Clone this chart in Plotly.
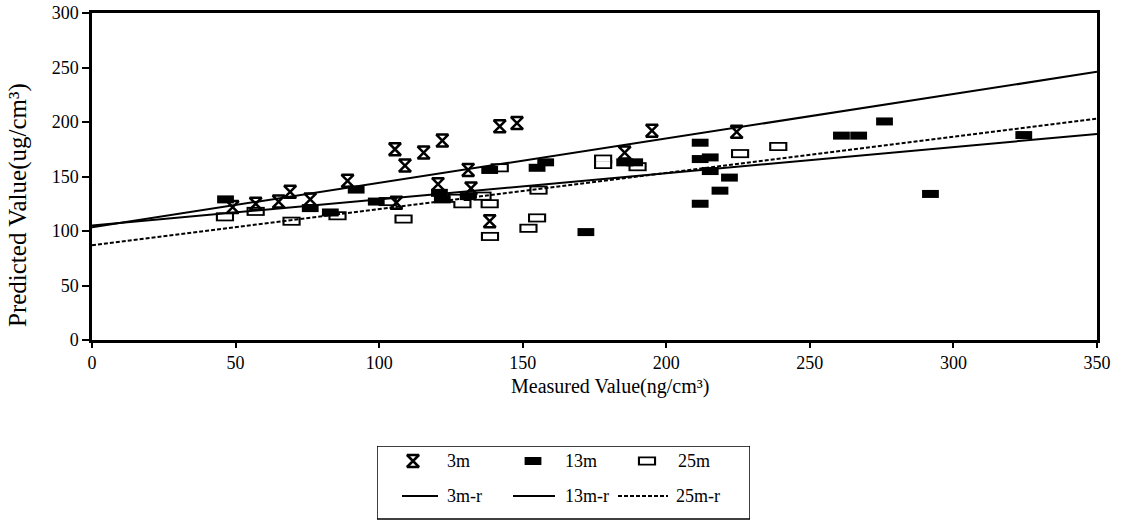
import plotly.graph_objects as go

# ---------------- data ----------------
x_3m = [49, 57, 65, 69, 76, 89, 105.5, 106, 109, 115.5, 120.5, 122, 131, 132,
        138.5, 142, 148, 185.5, 195, 224.5]
y_3m = [122, 125, 127, 136, 129, 146, 175, 126, 160, 172, 143, 183, 156, 139,
        109, 196, 199, 172, 192, 191]

x_13m = [46.5, 76, 83, 92, 99, 121, 122, 131, 138.5, 155, 158, 172, 185.5, 189,
         211.8, 211.8, 215.3, 215.3, 218.7, 222, 211.8, 261, 267, 276, 292, 324.5]
y_13m = [129, 121, 117, 138, 127, 135, 129, 132, 156, 158, 163, 99, 163, 163,
         181, 166, 167.5, 155, 137, 149, 125, 187.5, 187.5, 200.5, 134, 188]

x_25m = [46.3, 57, 69.5, 85.5, 103, 108.5, 127, 129, 136, 138.5, 138.6, 142,
         152, 155, 155.5, 178, 178, 190, 225.7, 239]
y_25m = [113, 118, 109, 114, 127, 111, 130, 125, 132, 125, 95, 158,
         102.5, 112, 137.5, 166, 161, 159, 171, 177.5]

# regression lines (end points at x = 0 and x = 350)
reg_x = [0, 350]
reg_3m = [103.5, 246]
reg_13m = [105, 189]
reg_25m = [87, 203]

x_ticks = [0, 50, 100, 150, 200, 250, 300, 350]
y_ticks = [0, 50, 100, 150, 200, 250, 300]

series_labels = ["3m", "13m", "25m"]
line_labels = ["3m-r", "13m-r", "25m-r"]

x_title = "Measured Value(ng/cm³)"
y_title = "Predicted Value(ug/cm³)"

# ---------------- styles ----------------
FONT = "Liberation Serif"
M3 = dict(symbol="hourglass-open", size=12, color="black", line=dict(width=2.5, color="black"))
M13 = dict(symbol="line-ew", size=12, color="black", line=dict(width=8, color="black"))
M25_OUT = dict(symbol="line-ew", size=13, color="black", line=dict(width=9, color="black"))
M25_IN = dict(symbol="line-ew", size=10, color="white", line=dict(width=5.5, color="white"))
L3 = dict(color="black", width=2)
L13 = dict(color="black", width=2)
L25 = dict(color="black", width=2, dash="4px,2px")

fig = go.Figure()

# markers (25m below, 3m on top)
fig.add_trace(go.Scatter(x=x_25m, y=y_25m, mode="markers", marker=M25_OUT, name=series_labels[2]))
fig.add_trace(go.Scatter(x=x_25m, y=y_25m, mode="markers", marker=M25_IN, name=series_labels[2],
                         hoverinfo="skip"))
fig.add_trace(go.Scatter(x=x_13m, y=y_13m, mode="markers", marker=M13, name=series_labels[1]))
fig.add_trace(go.Scatter(x=x_3m, y=y_3m, mode="markers", marker=M3, name=series_labels[0]))

# regression lines
fig.add_trace(go.Scatter(x=reg_x, y=reg_3m, mode="lines", line=L3, name=line_labels[0]))
fig.add_trace(go.Scatter(x=reg_x, y=reg_13m, mode="lines", line=L13, name=line_labels[1]))
fig.add_trace(go.Scatter(x=reg_x, y=reg_25m, mode="lines", line=L25, name=line_labels[2]))

# ---------------- legend box (drawn on a hidden pixel-scaled axis pair) ----------------
W, H = 1125, 524
ML, MR, MT, MB = 92, 28, 13, 4
pw, ph = W - ML - MR, H - MT - MB
plot_bottom_px = 340
box = (377, 446, 750, 519)  # left, top, right, bottom in page pixels

def lx(px):
    return (px - ML) / pw

def ly(py):
    return (H - MB - py) / ph

row1, row2 = 461, 496
sym_x = [413, 533, 647]
txt1_x = [445, 563, 676]
line_x = [(402, 438), (513, 555), (618, 668)]
txt2_x = [445, 563, 674]

leg_styles = [[M3], [M13], [M25_OUT, M25_IN]]
for sx, styles in zip(sym_x, leg_styles):
    for st in styles:
        fig.add_trace(go.Scatter(x=[sx], y=[row1], xaxis="x2", yaxis="y2", mode="markers",
                                 marker=st, hoverinfo="skip", showlegend=False))
for (a, b), st in zip(line_x, [L3, L13, L25]):
    fig.add_trace(go.Scatter(x=[a, b], y=[row2, row2], xaxis="x2", yaxis="y2", mode="lines",
                             line=st, hoverinfo="skip", showlegend=False))

annotations = []
for tx, lab in zip(txt1_x, series_labels):
    annotations.append(dict(x=tx, y=row1, xref="x2", yref="y2", text=lab, showarrow=False,
                            xanchor="left", yanchor="middle", font=dict(size=18, family=FONT)))
for tx, lab in zip(txt2_x, line_labels):
    annotations.append(dict(x=tx, y=row2, xref="x2", yref="y2", text=lab, showarrow=False,
                            xanchor="left", yanchor="middle", font=dict(size=18, family=FONT)))
# axis titles
annotations.append(dict(x=lx(18), y=ly(205), xref="paper", yref="paper", text=y_title,
                        textangle=-90, showarrow=False, xanchor="center", yanchor="middle",
                        font=dict(size=25, family=FONT)))
annotations.append(dict(x=lx(610), y=ly(386), xref="paper", yref="paper", text=x_title,
                        showarrow=False, xanchor="center", yanchor="middle", borderpad=0,
                        font=dict(size=20, family=FONT)))

shapes = [dict(type="rect", xref="x2", yref="y2", x0=box[0], y0=box[1], x1=box[2], y1=box[3],
               line=dict(color="black", width=1.5), fillcolor="rgba(0,0,0,0)", layer="below")]

axis_common = dict(showline=True, linecolor="black", linewidth=2.5, mirror=True, showgrid=False,
                   zeroline=False, ticks="outside", tickcolor="black", tickwidth=1.5,
                   automargin=False,
                   tickfont=dict(size=18, family=FONT, color="black"))

fig.update_layout(
    width=W, height=H,
    autosize=False,
    margin=dict(l=ML, r=MR, t=MT, b=MB, pad=0),
    plot_bgcolor="white", paper_bgcolor="white",
    showlegend=False,
    font=dict(family=FONT, color="black"),
    xaxis=dict(range=[0, 350], tickvals=x_ticks, ticklen=5, **axis_common),
    yaxis=dict(range=[0, 300], tickvals=y_ticks, ticklen=7, domain=[ly(plot_bottom_px), 1],
               **axis_common),
    xaxis2=dict(domain=[lx(box[0]), lx(box[2])], range=[box[0], box[2]], visible=False,
                anchor="y2", fixedrange=True, automargin=False),
    yaxis2=dict(domain=[0, ly(box[1])], range=[H - MB, box[1]], visible=False,
                anchor="x2", fixedrange=True, automargin=False),
    annotations=annotations,
    shapes=shapes,
)

fig.write_html("out.html")
